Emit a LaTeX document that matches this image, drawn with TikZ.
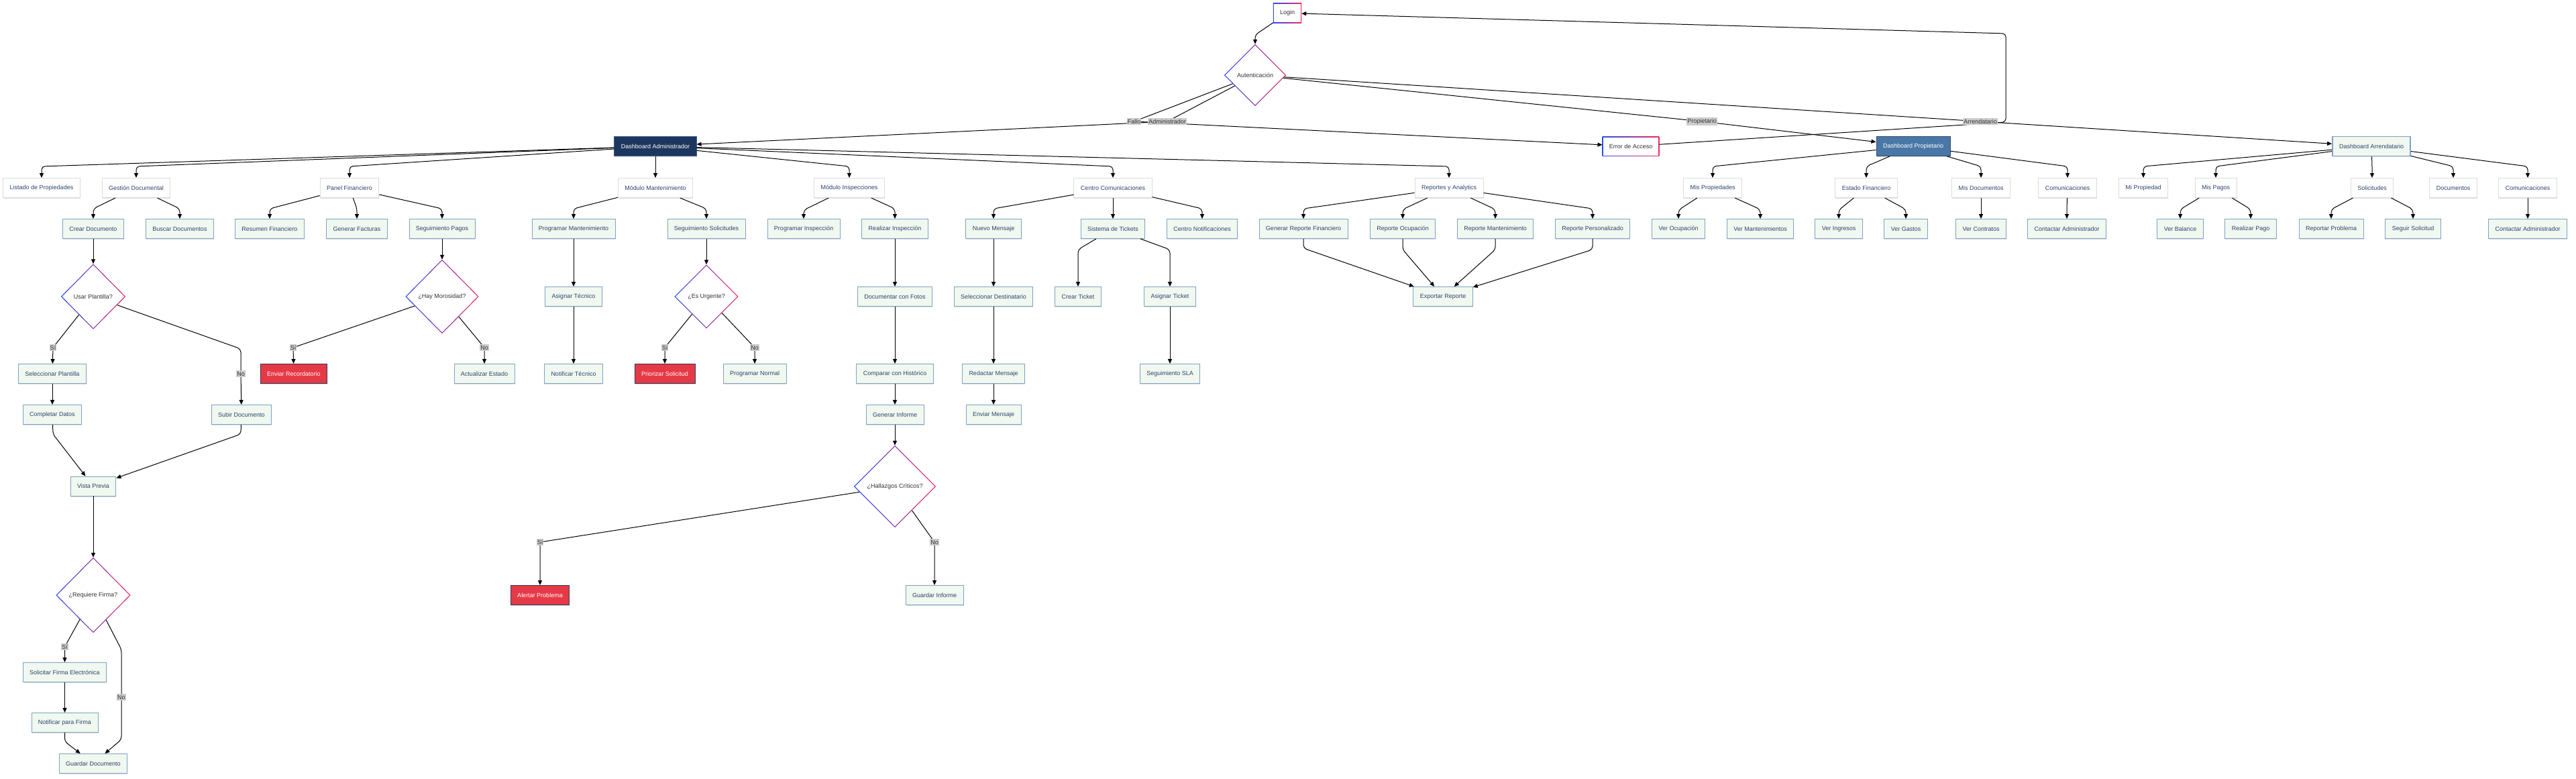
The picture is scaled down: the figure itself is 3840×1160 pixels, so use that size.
\documentclass[tikz,border=0pt]{standalone}
\usepackage{fontspec}
\setmainfont{Liberation Sans}
\usetikzlibrary{shapes.geometric,arrows.meta,backgrounds,shadows}
\definecolor{gblue}{HTML}{2A4BF2}
\definecolor{gpink}{HTML}{EE2A60}
\definecolor{navytxt}{HTML}{2E4470}
\definecolor{greenfill}{HTML}{F0F8EF}
\definecolor{boxborder}{HTML}{7FA2C8}
\definecolor{modborder}{HTML}{DCDCDC}
\definecolor{daFill}{HTML}{1D365E}
\definecolor{daBorder}{HTML}{3A5D8A}
\definecolor{dpFill}{HTML}{4A78A6}
\definecolor{dpBorder}{HTML}{2C4C72}
\definecolor{redFill}{HTML}{E63946}
\definecolor{redBorder}{HTML}{2D3A5C}
\definecolor{lblFill}{HTML}{CCCCCC}
\definecolor{lblText}{HTML}{333333}
\tikzset{
  base/.style={rectangle, font=\fontsize{9pt}{11pt}\selectfont, minimum height=29pt, inner xsep=10pt, inner ysep=0pt},
  shd/.style={drop shadow={shadow xshift=0.5pt, shadow yshift=-1.5pt, opacity=0.25}},
  actbox/.style={base, shd, fill=greenfill, draw=boxborder, line width=0.9pt, text=navytxt},
  modbox/.style={base, shd, fill=white, draw=modborder, line width=1pt, text=navytxt},
  dabox/.style={base, shd, fill=daFill, draw=daBorder, line width=1pt, text=white},
  dpbox/.style={base, shd, fill=dpFill, draw=dpBorder, line width=1pt, text=white},
  darrbox/.style={actbox, line width=1.8pt},
  redbox/.style={base, shd, fill=redFill, draw=redBorder, line width=0.9pt, text=white},
  gradbox/.style={base, text=lblText},
  decis/.style={diamond, aspect=1, font=\fontsize{9pt}{11pt}\selectfont, inner sep=0pt, text=lblText},
  elabel/.style={fill=lblFill, text=lblText, font=\fontsize{9pt}{10pt}\selectfont, inner xsep=1pt, inner ysep=1.5pt},
  arr/.style={-{Triangle[length=7pt,width=6pt]}, line width=1pt, rounded corners=5pt},
}
\newcommand\gradrect[1]{%
  \shade[left color=gblue,right color=gpink] (#1.south west) rectangle (#1.north east);
  \fill[white] ([xshift=1.2pt,yshift=1.2pt]#1.south west) rectangle ([xshift=-1.2pt,yshift=-1.2pt]#1.north east);}
\newcommand\graddiam[1]{%
  \shade[left color=gblue,right color=gpink] (#1.west) -- (#1.north) -- (#1.east) -- (#1.south) -- cycle;
  \fill[white] ([xshift=1.8pt]#1.west) -- ([yshift=-1.8pt]#1.north) -- ([xshift=-1.8pt]#1.east) -- ([yshift=1.8pt]#1.south) -- cycle;}
\newcommand\treeedge[3]{\draw[arr] (#1) -- ([yshift=#3]#2.north) -- (#2.north);}
\begin{document}
\begin{tikzpicture}[x=1pt,y=-1pt]
\begin{pgfonlayer}{background}
\fill[white] (0,0) rectangle (3840,1160);
\end{pgfonlayer}
\useasboundingbox (0,0) rectangle (3840,1160);

% ---- top ----
\node[gradbox] (login) at (1919,19.5) {Login};
\node[decis, minimum width=92pt, minimum height=92pt] (auth) at (1871,112) {Autenticación};
\node[dabox] (da) at (977,218) {Dashboard Administrador};
\node[gradbox] (err) at (2431,218) {Error de Acceso};
\node[dpbox] (dp) at (2852,218) {Dashboard Propietario};
\node[darrbox] (dar) at (3535,218) {Dashboard Arrendatario};

% ---- row 2 ----
\node[modbox] (lp) at (62,280) {Listado de Propiedades};
\node[modbox] (gdm) at (203,280) {Gestión Documental};
\node[modbox] (pf) at (521,280) {Panel Financiero};
\node[modbox] (mm) at (977,280) {Módulo Mantenimiento};
\node[modbox] (mi) at (1266,280) {Módulo Inspecciones};
\node[modbox] (cc) at (1659,280) {Centro Comunicaciones};
\node[modbox] (ra) at (2160,280) {Reportes y Analytics};
\node[modbox] (mp) at (2553,280) {Mis Propiedades};
\node[modbox] (ef) at (2782,280) {Estado Financiero};
\node[modbox] (md) at (2953,280) {Mis Documentos};
\node[modbox] (pcom) at (3082,280) {Comunicaciones};
\node[modbox] (mprop) at (3195,280) {Mi Propiedad};
\node[modbox] (mpag) at (3303,280) {Mis Pagos};
\node[modbox] (soli) at (3536,280) {Solicitudes};
\node[modbox] (docs) at (3657,280) {Documentos};
\node[modbox] (acom) at (3768,280) {Comunicaciones};

% ---- row 3 ----
\node[actbox] (cd) at (139,341) {Crear Documento};
\node[actbox] (bd) at (268,341) {Buscar Documentos};
\node[actbox] (rsf) at (402,341) {Resumen Financiero};
\node[actbox] (gf) at (532,341) {Generar Facturas};
\node[actbox] (sp) at (659,341) {Seguimiento Pagos};
\node[actbox] (pm) at (855,341) {Programar Mantenimiento};
\node[actbox] (ss) at (1053,341) {Seguimiento Solicitudes};
\node[actbox] (pi) at (1198,341) {Programar Inspección};
\node[actbox] (ri) at (1334,341) {Realizar Inspección};
\node[actbox] (nm) at (1481,341) {Nuevo Mensaje};
\node[actbox] (st) at (1659,341) {Sistema de Tickets};
\node[actbox] (cn) at (1792,341) {Centro Notificaciones};
\node[actbox] (grf) at (1943,341) {Generar Reporte Financiero};
\node[actbox] (ro) at (2091,341) {Reporte Ocupación};
\node[actbox] (rm) at (2229,341) {Reporte Mantenimiento};
\node[actbox] (rp) at (2374,341) {Reporte Personalizado};
\node[actbox] (vo) at (2502,341) {Ver Ocupación};
\node[actbox] (vm) at (2624,341) {Ver Mantenimientos};
\node[actbox] (vi) at (2741,341) {Ver Ingresos};
\node[actbox] (vg) at (2841,341) {Ver Gastos};
\node[actbox] (vc) at (2953,341) {Ver Contratos};
\node[actbox] (pca) at (3081,341) {Contactar Administrador};
\node[actbox] (vb) at (3250,341) {Ver Balance};
\node[actbox] (rpg) at (3355,341) {Realizar Pago};
\node[actbox] (rpr) at (3475,341) {Reportar Problema};
\node[actbox] (ssol) at (3597,341) {Seguir Solicitud};
\node[actbox] (aca) at (3768,341) {Contactar Administrador};

% ---- row 4 ----
\node[decis, minimum width=96pt, minimum height=97pt] (up) at (139,442) {Usar Plantilla?};
\node[decis, minimum width=109pt, minimum height=110pt] (hm) at (659,442) {¿Hay Morosidad?};
\node[actbox] (atec) at (855,442) {Asignar Técnico};
\node[decis, minimum width=95pt, minimum height=95pt] (eu) at (1053,442) {¿Es Urgente?};
\node[actbox] (dcf) at (1334,442) {Documentar con Fotos};
\node[actbox] (sd) at (1481,442) {Seleccionar Destinatario};
\node[actbox] (ct) at (1607,442) {Crear Ticket};
\node[actbox] (atk) at (1744,442) {Asignar Ticket};
\node[actbox] (exr) at (2151,442) {Exportar Reporte};

% ---- row 5 ----
\node[actbox] (spl) at (78,557) {Seleccionar Plantilla};
\node[redbox] (erc) at (438,557) {Enviar Recordatorio};
\node[actbox] (ae) at (722,557) {Actualizar Estado};
\node[actbox] (nt) at (855,557) {Notificar Técnico};
\node[redbox] (ps) at (991,557) {Priorizar Solicitud};
\node[actbox] (pn) at (1125,557) {Programar Normal};
\node[actbox] (cmp) at (1334,557) {Comparar con Histórico};
\node[actbox] (rdm) at (1481,557) {Redactar Mensaje};
\node[actbox] (sla) at (1744,557) {Seguimiento SLA};

% ---- row 6 ----
\node[actbox] (cdat) at (78,618) {Completar Datos};
\node[actbox] (sub) at (360,618) {Subir Documento};
\node[actbox] (gi) at (1334,618) {Generar Informe};
\node[actbox] (em) at (1481,618) {Enviar Mensaje};

% ---- lower ----
\node[actbox] (vp) at (139,724.5) {Vista Previa};
\node[decis, minimum width=122pt, minimum height=122pt] (hc) at (1334,725) {¿Hallazgos Críticos?};
\node[decis, minimum width=111pt, minimum height=112pt] (rqf) at (139,887) {¿Requiere Firma?};
\node[redbox] (ap) at (805,887) {Alertar Problema};
\node[actbox] (gin) at (1393,887) {Guardar Informe};
\node[actbox] (sfe) at (96.5,1002) {Solicitar Firma Electrónica};
\node[actbox] (nfp) at (96.5,1077) {Notificar para Firma};
\node[actbox] (gdoc) at (139,1138) {Guardar Documento};

% ---- gradient borders ----
\begin{pgfonlayer}{background}
\gradrect{login}
\gradrect{err}
\graddiam{auth}
\graddiam{up}
\graddiam{hm}
\graddiam{eu}
\graddiam{hc}
\graddiam{rqf}
\end{pgfonlayer}

% ---- label coordinates ----
\coordinate (cFallo) at (1690.5,181);
\coordinate (cAdm) at (1740,181);
\coordinate (cProp) at (2537,181);
\coordinate (cArr) at (2952,181);
\coordinate (cUpSi) at (79,518);
\coordinate (cUpNo) at (359,557);
\coordinate (cHmSi) at (437,518);
\coordinate (cHmNo) at (722,518);
\coordinate (cEuSi) at (991,518);
\coordinate (cEuNo) at (1125,518);
\coordinate (cHcSi) at (805,808);
\coordinate (cHcNo) at (1393,808);
\coordinate (cRfSi) at (96.5,964);
\coordinate (cRfNo) at (181,1039);

% ---- top edges ----
\draw[arr] (login) -- (1871,52) -- (auth);
\draw[arr] (auth) -- (cAdm) -- (da);
\draw[arr] (auth) -- (cFallo) -- (err);
\draw[arr] (auth) -- (cProp) -- (dp);
\draw[arr] (auth) -- (cArr) -- (dar);
\draw[arr] (err) -- (2990,182) -- (2990,50) -- (login);

% ---- dashboard edges ----
\foreach \c in {lp,gdm,pf,mm,mi,cc,ra} {\treeedge{da}{\c}{17pt}}
\foreach \c in {mp,ef,md,pcom} {\treeedge{dp}{\c}{17pt}}
\foreach \c in {mprop,mpag,soli,docs,acom} {\treeedge{dar}{\c}{17pt}}

% ---- module edges ----
\treeedge{gdm}{cd}{15pt}
\treeedge{gdm}{bd}{15pt}
\treeedge{pf}{rsf}{15pt}
\treeedge{pf}{gf}{15pt}
\treeedge{pf}{sp}{15pt}
\treeedge{mm}{pm}{15pt}
\treeedge{mm}{ss}{15pt}
\treeedge{mi}{pi}{13pt}
\treeedge{mi}{ri}{15pt}
\treeedge{cc}{nm}{15pt}
\treeedge{cc}{st}{15pt}
\treeedge{cc}{cn}{15pt}
\treeedge{ra}{grf}{15pt}
\treeedge{ra}{ro}{14pt}
\treeedge{ra}{rm}{14pt}
\treeedge{ra}{rp}{15pt}
\treeedge{mp}{vo}{13pt}
\treeedge{mp}{vm}{14pt}
\treeedge{ef}{vi}{13pt}
\treeedge{ef}{vg}{14pt}
\treeedge{md}{vc}{15pt}
\treeedge{pcom}{pca}{15pt}
\treeedge{mpag}{vb}{14pt}
\treeedge{mpag}{rpg}{14pt}
\treeedge{soli}{rpr}{14pt}
\treeedge{soli}{ssol}{14pt}
\treeedge{acom}{aca}{15pt}

% ---- flows ----
\draw[arr] (cd) -- (up);
\draw[arr] (up) -- (cUpSi) -- (spl);
\draw[arr] (up) -- (359,520) -- (cUpNo) -- (sub);
\draw[arr] (spl) -- (cdat);
\draw[arr] (cdat) -- (79,647) -- (vp);
\draw[arr] (sub) -- (359,647) -- (vp);
\draw[arr] (vp) -- (rqf);
\draw[arr] (rqf) -- (cRfSi) -- (sfe);
\draw[arr] (rqf) -- (181,968) -- (cRfNo) -- (181,1102) -- (gdoc);
\draw[arr] (sfe) -- (nfp);
\draw[arr] (nfp) -- (96.5,1105) -- (gdoc);

\draw[arr] (sp) -- (hm);
\draw[arr] (hm) -- (cHmSi) -- (erc);
\draw[arr] (hm) -- (cHmNo) -- (ae);

\draw[arr] (pm) -- (atec);
\draw[arr] (atec) -- (nt);

\draw[arr] (ss) -- (eu);
\draw[arr] (eu) -- (cEuSi) -- (ps);
\draw[arr] (eu) -- (cEuNo) -- (pn);

\draw[arr] (ri) -- (dcf);
\draw[arr] (dcf) -- (cmp);
\draw[arr] (cmp) -- (gi);
\draw[arr] (gi) -- (hc);
\draw[arr] (hc) -- (cHcSi) -- (ap);
\draw[arr] (hc) -- (cHcNo) -- (gin);

\draw[arr] (nm) -- (sd);
\draw[arr] (sd) -- (rdm);
\draw[arr] (rdm) -- (em);

\draw[arr] (st) -- (1607,372) -- (ct);
\draw[arr] (st) -- (1744,372) -- (atk);
\draw[arr] (atk) -- (sla);

\draw[arr] (grf) -- (1943,370) -- (exr);
\draw[arr] (ro) -- (2091,372) -- (exr);
\draw[arr] (rm) -- (2229,372) -- (exr);
\draw[arr] (rp) -- (2374,372) -- (exr);

% ---- edge labels ----
\node[elabel] (lFallo) at (cFallo) {Fallo};
\node[elabel] (lAdm) at (cAdm) {Administrador};
\node[elabel] (lProp) at (cProp) {Propietario};
\node[elabel] (lArr) at (cArr) {Arrendatario};
\node[elabel] (lUpSi) at (cUpSi) {Sí};
\node[elabel] (lUpNo) at (cUpNo) {No};
\node[elabel] (lHmSi) at (cHmSi) {Sí};
\node[elabel] (lHmNo) at (cHmNo) {No};
\node[elabel] (lEuSi) at (cEuSi) {Sí};
\node[elabel] (lEuNo) at (cEuNo) {No};
\node[elabel] (lHcSi) at (cHcSi) {Sí};
\node[elabel] (lHcNo) at (cHcNo) {No};
\node[elabel] (lRfSi) at (cRfSi) {Sí};
\node[elabel] (lRfNo) at (cRfNo) {No};
\end{tikzpicture}
\end{document}
